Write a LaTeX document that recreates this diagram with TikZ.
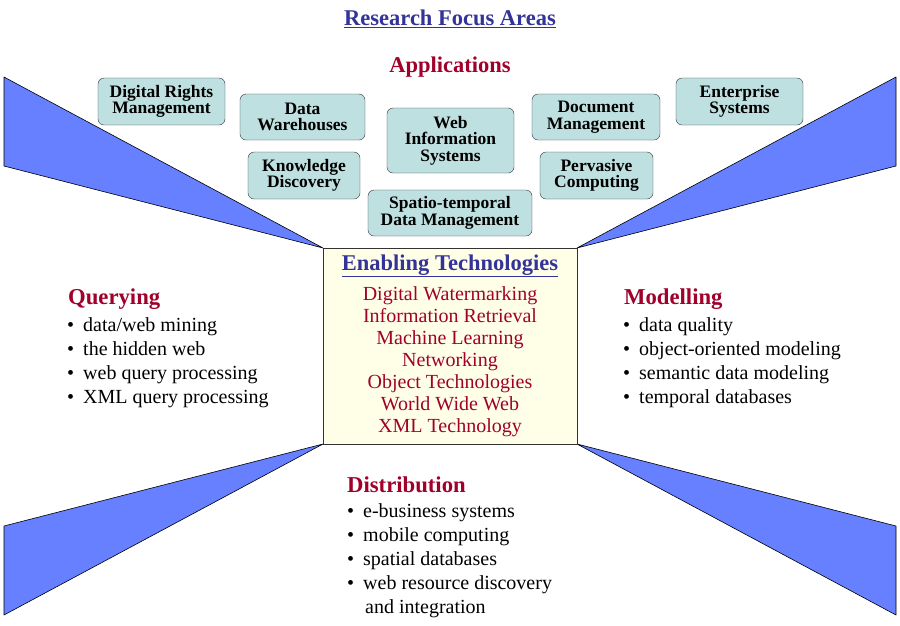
\documentclass[tikz,border=0pt]{standalone}
\usepackage{fontspec}
\setmainfont{Liberation Serif}
\definecolor{wedge}{HTML}{6680FF}
\definecolor{boxc}{HTML}{BFE0E0}
\definecolor{hred}{HTML}{A0002A}
\definecolor{hblue}{HTML}{333399}
\definecolor{cream}{HTML}{FFFFE8}
\begin{document}
\begin{tikzpicture}[x=1pt,y=-1pt,
  wedge/.style={fill=wedge,draw=black,line width=0.6pt,line join=round},
  app/.style={draw=black!80,fill=boxc,rounded corners=6pt,inner sep=0pt,align=center,font=\fontsize{17.5}{16.5}\selectfont\bfseries},
  head/.style={anchor=west,text=hred,font=\fontsize{22.7}{22}\selectfont\bfseries,inner sep=0pt,text height=0.7em,text depth=0.22em,yshift=-3pt},
  item/.style={anchor=west,font=\fontsize{20}{20}\selectfont,inner sep=0pt,text height=0.7em,text depth=0.22em,yshift=-3pt},
  tech/.style={text=hred,font=\fontsize{20}{20}\selectfont,inner sep=0pt,text height=0.7em,text depth=0.22em,yshift=-3pt}]
\useasboundingbox (0,0) rectangle (900,625);
\draw[wedge] (4,77) -- (323,248) -- (4,166) -- cycle;
\draw[wedge] (896,77) -- (577,248) -- (896,166) -- cycle;
\draw[wedge] (4,526) -- (323,444) -- (4,615) -- cycle;
\draw[wedge] (896,526) -- (577,444) -- (896,615) -- cycle;
\node[draw=black!80,fill=cream,minimum width=254pt,minimum height=196pt,inner sep=0pt] (et) at (450,346) {};
\node[text=hblue,font=\fontsize{22.5}{22}\selectfont\bfseries] (title) at (450,19) {\underline{Research Focus Areas}};
\node[text=hred,font=\fontsize{22.5}{22}\selectfont\bfseries] (apps) at (450,67) {Applications};
\node[app,minimum width=127pt,minimum height=47pt] (drm) at (161.5,101.5) {Digital Rights\\Management};
\node[app,minimum width=125pt,minimum height=46pt] (dw) at (302.5,117) {Data\\Warehouses};
\node[app,minimum width=112pt,minimum height=47pt] (kd) at (304,175.5) {Knowledge\\Discovery};
\node[app,minimum width=127pt,minimum height=65pt] (wis) at (450.5,140.5) {Web\\Information\\Systems};
\node[app,minimum width=164pt,minimum height=46pt] (st) at (450,213) {Spatio-temporal\\Data Management};
\node[app,minimum width=128pt,minimum height=46pt] (dm) at (596,117) {Document\\Management};
\node[app,minimum width=113pt,minimum height=47pt] (pc) at (596.5,175.5) {Pervasive\\Computing};
\node[app,minimum width=127pt,minimum height=47pt] (es) at (739.5,101.5) {Enterprise\\Systems};
\node[text=hblue,font=\fontsize{22.5}{22}\selectfont\bfseries] (ett) at (450,266) {\underline{Enabling Technologies}};
\foreach \t [count=\i from 0] in {Digital Watermarking,Information Retrieval,Machine Learning,Networking,Object Technologies,World Wide Web,XML Technology}
  \node[tech] (t\i) at (450,295+22*\i) {\t};
\node[head] (q) at (68,299) {Querying};
\foreach \t [count=\i from 0] in {data/web mining,the hidden web,web query processing,XML query processing}
  \node[item] (q\i) at (67,326+24*\i) {\textbullet\hspace{9pt}\t};
\node[head] (m) at (624,299) {Modelling};
\foreach \t [count=\i from 0] in {data quality,object-oriented modeling,semantic data modeling,temporal databases}
  \node[item] (m\i) at (623,326+24*\i) {\textbullet\hspace{9pt}\t};
\node[head] (d) at (347,487) {Distribution};
\foreach \t [count=\i from 0] in {e-business systems,mobile computing,spatial databases,web resource discovery}
  \node[item] (d\i) at (347,512+24*\i) {\textbullet\hspace{9pt}\t};
\node[item] (d4) at (365,608) {and integration};
\end{tikzpicture}
\end{document}
